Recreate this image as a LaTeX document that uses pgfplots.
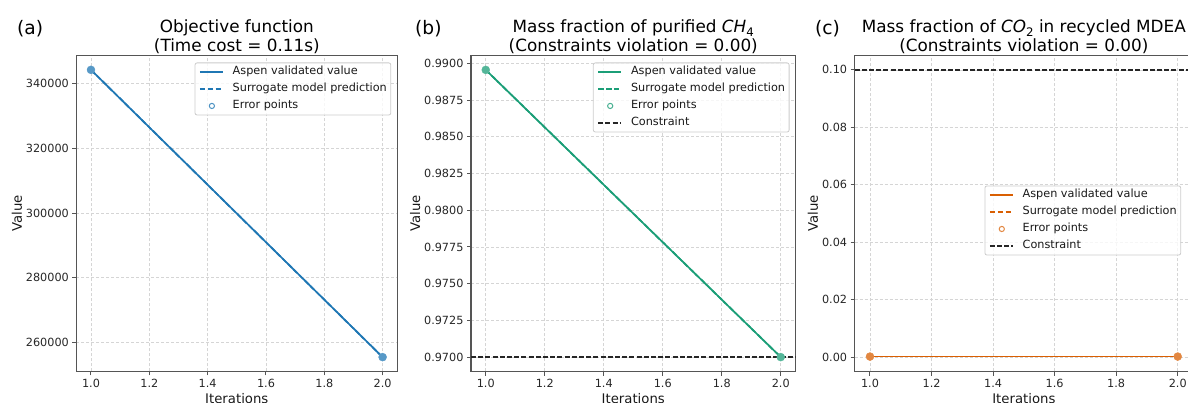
\documentclass[border=0pt]{standalone}
\usepackage{fontspec}
\setmainfont{DejaVu Sans}
\usepackage{pgfplots}
\pgfplotsset{compat=1.18}
\definecolor{cblue}{HTML}{1F77B4}
\definecolor{cgreen}{HTML}{1B9E77}
\definecolor{corange}{HTML}{D95F02}
\definecolor{spine}{HTML}{555555}
\definecolor{gridc}{HTML}{D5D5D5}
\newcommand\sub[1]{\raisebox{-0.22em}{\fontsize{11.8}{12}\selectfont #1}}
\pgfplotsset{
  panel/.style={
    scale only axis,
    anchor=south west,
    xmin=0.95, xmax=2.05,
    xtick={1,1.2,1.4,1.6,1.8,2},
    xticklabel style={/pgf/number format/.cd, fixed, fixed zerofill, precision=1},
    axis line style={spine, line width=1.4bp},
    tick style={spine, line width=1bp},
    major tick length=4bp,
    tick align=outside,
    tick pos=left,
    grid=major,
    major grid style={gridc, dash pattern=on 3bp off 2bp, line width=0.6bp},
    ticklabel style={font=\fontsize{11.3}{13}\selectfont, text=black!85},
    /pgf/number format/assume math mode=true,
    scaled y ticks=false,
    xlabel={Iterations}, ylabel={Value},
    label style={font=\fontsize{13.3}{16}\selectfont, text=black!90},
    ylabel shift=-3bp,
    xlabel shift=-1bp,
    title style={font=\fontsize{16.9}{18.3}\selectfont, align=center, at={(0.5,1)}, anchor=south, inner sep=0pt, yshift=-4bp},
    legend cell align=left,
    legend style={at={(1,1)}, anchor=north east, xshift=-6bp, yshift=-7bp,
      draw=black!20, line width=0.8bp, rounded corners=2bp, fill=white, fill opacity=0.8, text opacity=1,
      font=\fontsize{11.3}{13}\selectfont, text=black!90,
      inner xsep=4bp, inner ysep=3.5bp,
      nodes={inner sep=0pt, text height=8.5bp, text depth=2.6bp},
      column sep=9bp, row sep=5.9bp},
  },
}
\begin{document}
\begin{tikzpicture}
\begin{scope}
\clip (0bp,0bp) rectangle (1188bp,403bp);

% (a)
\begin{axis}[panel, at={(76.4bp,31.5bp)}, width=320.8bp, height=316bp,
  ymin=251065, ymax=348635,
  ytick={260000,280000,300000,320000,340000},
  yticklabel style={/pgf/number format/.cd, fixed, 1000 sep={}},
  title={Objective function\\(Time cost = 0.11s)}]
\addplot[cblue, line width=1.7bp, legend image code/.code={\draw[cblue, line width=1.7bp] (0bp,0bp) -- (23bp,0bp);}]
  coordinates {(1,344200) (2,255500)};
\addlegendentry{Aspen validated value}
\addplot[cblue, line width=1.7bp, dash pattern=on 5.5bp off 2.4bp, legend image code/.code={\draw[cblue, line width=1.7bp, dash pattern=on 5.5bp off 2.4bp] (0bp,0bp) -- (23bp,0bp);}]
  coordinates {(1,344200) (2,255500)};
\addlegendentry{Surrogate model prediction}
\addlegendimage{legend image code/.code={\path[draw=none] (0bp,0bp) -- (23bp,0bp); \draw[cblue!80, line width=1bp] (12bp,0bp) circle (2.6bp);}}
\addlegendentry{Error points}
\addplot[only marks, mark=*, mark size=4bp, color=cblue!75, mark options={draw=cblue!75, fill=cblue!75}, forget plot]
  coordinates {(1,344200) (2,255500)};
\end{axis}

% (b)
\begin{axis}[panel, at={(471bp,31.5bp)}, width=324.5bp, height=316bp,
  ymin=0.96902, ymax=0.99053,
  ytick={0.97,0.9725,0.975,0.9775,0.98,0.9825,0.985,0.9875,0.99},
  yticklabel style={/pgf/number format/.cd, fixed, fixed zerofill, precision=4},
  title={Mass fraction of purified \textit{CH}\sub{4}\\(Constraints violation = 0.00)}]
\addplot[cgreen, line width=1.7bp, legend image code/.code={\draw[cgreen, line width=1.7bp] (0bp,0bp) -- (23bp,0bp);}]
  coordinates {(1,0.98955) (2,0.9700)};
\addlegendentry{Aspen validated value}
\addplot[cgreen, line width=1.7bp, dash pattern=on 5.5bp off 2.4bp, legend image code/.code={\draw[cgreen, line width=1.7bp, dash pattern=on 5.5bp off 2.4bp] (0bp,0bp) -- (23bp,0bp);}]
  coordinates {(1,0.98955) (2,0.9700)};
\addlegendentry{Surrogate model prediction}
\addlegendimage{legend image code/.code={\path[draw=none] (0bp,0bp) -- (23bp,0bp); \draw[cgreen!80, line width=1bp] (12bp,0bp) circle (2.6bp);}}
\addlegendentry{Error points}
\addplot[black!85, line width=1.3bp, dash pattern=on 5bp off 2.2bp, legend image code/.code={\draw[black!85, line width=1.3bp, dash pattern=on 5bp off 2.2bp] (0bp,0bp) -- (23bp,0bp);}]
  coordinates {(0.95,0.97) (2.05,0.97)};
\addlegendentry{Constraint}
\addplot[only marks, mark=*, mark size=4bp, color=cgreen!75, mark options={draw=cgreen!75, fill=cgreen!75}, forget plot]
  coordinates {(1,0.98955) (2,0.9700)};
\end{axis}

% (c)
\begin{axis}[panel, at={(854.6bp,31.5bp)}, width=338.5bp, height=316bp,
  ymin=-0.005, ymax=0.105,
  ytick={0,0.02,0.04,0.06,0.08,0.1},
  yticklabel style={/pgf/number format/.cd, fixed, fixed zerofill, precision=2},
  legend style={at={(1,0.5)}, anchor=east, xshift=-6bp, yshift=0bp},
  title={Mass fraction of \textit{CO}\sub{2} in recycled MDEA\\(Constraints violation = 0.00)}]
\addplot[corange, line width=1.7bp, legend image code/.code={\draw[corange, line width=1.7bp] (0bp,0bp) -- (23bp,0bp);}]
  coordinates {(1,0.0002) (2,0.0002)};
\addlegendentry{Aspen validated value}
\addplot[corange, line width=1.7bp, dash pattern=on 5.5bp off 2.4bp, legend image code/.code={\draw[corange, line width=1.7bp, dash pattern=on 5.5bp off 2.4bp] (0bp,0bp) -- (23bp,0bp);}]
  coordinates {(1,0.0002) (2,0.0002)};
\addlegendentry{Surrogate model prediction}
\addlegendimage{legend image code/.code={\path[draw=none] (0bp,0bp) -- (23bp,0bp); \draw[corange!75, line width=1bp] (12bp,0bp) circle (2.6bp);}}
\addlegendentry{Error points}
\addplot[black!85, line width=1.3bp, dash pattern=on 5bp off 2.2bp, legend image code/.code={\draw[black!85, line width=1.3bp, dash pattern=on 5bp off 2.2bp] (0bp,0bp) -- (23bp,0bp);}]
  coordinates {(0.95,0.1) (2.05,0.1)};
\addlegendentry{Constraint}
\addplot[only marks, mark=*, mark size=4bp, color=corange!75, mark options={draw=corange!75, fill=corange!75}, forget plot]
  coordinates {(1,0.0002) (2,0.0002)};
\end{axis}

\node[anchor=base west, inner sep=0pt, font=\fontsize{18.7}{20}\selectfont] at (17bp,368.5bp) {(a)};
\node[anchor=base west, inner sep=0pt, font=\fontsize{18.7}{20}\selectfont] at (415bp,368.5bp) {(b)};
\node[anchor=base west, inner sep=0pt, font=\fontsize{18.7}{20}\selectfont] at (815bp,368.5bp) {(c)};
\end{scope}
\pgfresetboundingbox
\path[use as bounding box] (0bp,0bp) rectangle (1188bp,403bp);
\end{tikzpicture}
\end{document}
